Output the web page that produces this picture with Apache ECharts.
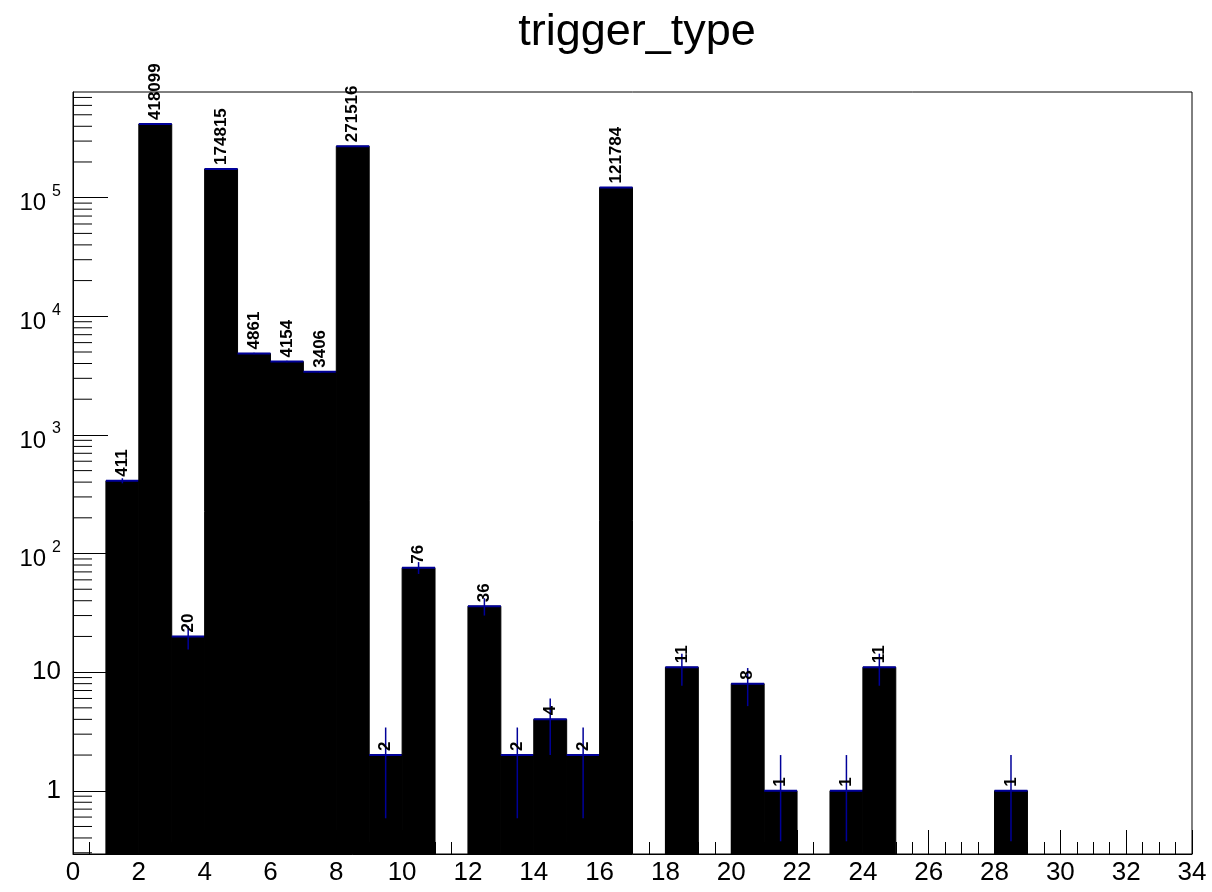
<!DOCTYPE html>
<html>
<head>
<meta charset="utf-8">
<script src="https://cdn.jsdelivr.net/npm/echarts@6/dist/echarts.min.js"></script>
<style>
  html, body { margin: 0; padding: 0; background: #fff; }
  #chart { width: 1212px; height: 892px; }
</style>
</head>
<body>
<div id="chart"></div>
<script>
// Histogram "trigger_type": bins of width 1 from 0 to 34
const binEdgesLow = [0,1,2,3,4,5,6,7,8,9,10,11,12,13,14,15,16,17,18,19,20,21,22,23,24,25,26,27,28,29,30,31,32,33];
const binContents = [0,411,418099,20,174815,4861,4154,3406,271516,2,76,0,36,2,4,2,121784,0,11,0,8,1,0,1,11,0,0,0,1,0,0,0,0,0];
const binErrors   = [0,20.27,646.6,4.47,418.1,69.72,64.45,58.36,521.1,1.414,8.718,0,6,1.414,2,1.414,349.0,0,3.317,0,2.828,1,0,1,3.317,0,0,0,1,0,0,0,0,0];
const xTickLabels = ['0','2','4','6','8','10','12','14','16','18','20','22','24','26','28','30','32','34'];
const yMajorLabels = {'1':'1','10':'10','100':'{b|10}{s|2}','1000':'{b|10}{s|3}','10000':'{b|10}{s|4}','100000':'{b|10}{s|5}'};

const yMin = 0.293, yMax = 778000;
const errFloor = 0.375;
const titleText = 'trigger_type';

// minor ticks of the log axis (2..9 x 10^k)
const yMinorTicks = [];
for (let k = -1; k <= 5; k++) {
  for (let m = 2; m <= 9; m++) {
    const v = m * Math.pow(10, k);
    if (v > yMin && v < yMax) yMinorTicks.push([0, v]);
  }
}

const barData = [];
for (let i = 0; i < binEdgesLow.length; i++) {
  if (binContents[i] > 0) barData.push([binEdgesLow[i], binEdgesLow[i] + 1, binContents[i], binErrors[i]]);
}

const FONT = 'Liberation Sans';
const navy = '#000099';

const chart = echarts.init(document.getElementById('chart'), null, {renderer: 'canvas'});
chart.setOption({
  animation: false,
  backgroundColor: '#fff',
  title: {
    text: titleText,
    left: 632, top: 5, textAlign: 'center',
    textStyle: {fontFamily: FONT, fontSize: 45, fontWeight: 'normal', color: '#000'}
  },
  grid: {
    left: 73, right: 20, top: 92, bottom: 38,
    show: true, borderColor: '#000', borderWidth: 1, backgroundColor: 'transparent', z: 0
  },
  xAxis: {
    type: 'value', min: 0, max: 34, interval: 2, z: 0,
    axisLine: {show: true, onZero: false, lineStyle: {color: '#000', width: 1}},
    axisTick: {show: true, inside: true, length: 24, lineStyle: {color: '#000', width: 1}},
    minorTick: {show: true, splitNumber: 4, length: 12, lineStyle: {color: '#000', width: 1}},
    splitLine: {show: false},
    minorSplitLine: {show: false},
    axisLabel: {
      fontFamily: FONT, fontSize: 26, color: '#000', margin: 6,
      formatter: function (v) { const s = String(Math.round(v)); return xTickLabels.indexOf(s) >= 0 ? s : ''; }
    }
  },
  yAxis: {
    type: 'log', logBase: 10, min: yMin, max: yMax, z: 0,
    axisLine: {show: true, lineStyle: {color: '#000', width: 1}},
    axisTick: {show: true, inside: true, length: 35, lineStyle: {color: '#000', width: 1}},
    splitLine: {show: false},
    axisLabel: {
      showMinLabel: false, showMaxLabel: false,
      margin: 12, color: '#000', fontFamily: FONT, fontSize: 26,
      formatter: function (v) {
        const key = String(Math.round(v));
        const ok = Math.abs(Math.log10(v) - Math.round(Math.log10(v))) < 1e-6;
        return ok && yMajorLabels[key] ? yMajorLabels[key] : '';
      },
      rich: {
        b: {fontFamily: FONT, fontSize: 24, color: '#000', padding: [12, 0, 0, 0]},
        s: {fontFamily: FONT, fontSize: 16, color: '#000', padding: [0, 0, 12, 6]}
      }
    }
  },
  series: [
    {
      type: 'custom',
      name: 'trigger_type',
      clip: false,
      z: 10,
      data: barData,
      encode: {x: [0, 1], y: 2},
      renderItem: function (params, api) {
        const x0 = api.value(0), x1 = api.value(1), v = api.value(2), e = api.value(3);
        if (!(v > 0)) return;
        const pL = api.coord([x0, v]);
        const pR = api.coord([x1, v]);
        const pB = api.coord([x0, yMin]);
        const cx = (pL[0] + pR[0]) / 2;
        const lo = Math.max(v - e, errFloor), hi = v + e;
        const pLo = api.coord([(x0 + x1) / 2, lo]);
        const pHi = api.coord([(x0 + x1) / 2, hi]);
        return {
          type: 'group',
          children: [
            {type: 'rect', shape: {x: pL[0], y: pL[1], width: pR[0] - pL[0], height: pB[1] - pL[1]},
              style: {fill: '#000', stroke: '#000', lineWidth: 1}},
            {type: 'line', shape: {x1: pL[0], y1: pL[1], x2: pR[0], y2: pL[1]}, style: {stroke: navy, lineWidth: 2}},
            {type: 'line', shape: {x1: cx, y1: pLo[1], x2: cx, y2: pHi[1]}, style: {stroke: navy, lineWidth: 1.5}},
            {type: 'text', x: cx, y: pL[1] - 4, rotation: Math.PI / 2,
              style: {text: String(v), x: 0, y: 0, align: 'left', verticalAlign: 'middle',
                fontFamily: FONT, fontSize: 17, fontWeight: 'bold', fill: '#000'}}
          ]
        };
      }
    },
    {
      type: 'custom',
      name: 'minorTicks',
      clip: false,
      silent: true,
      z: 11,
      data: yMinorTicks,
      encode: {x: 0, y: 1},
      renderItem: function (params, api) {
        const p = api.coord([0, api.value(1)]);
        return {type: 'line', shape: {x1: p[0], y1: p[1], x2: p[0] + 19, y2: p[1]}, style: {stroke: '#000', lineWidth: 1}};
      }
    }
  ]
});
</script>
</body>
</html>
